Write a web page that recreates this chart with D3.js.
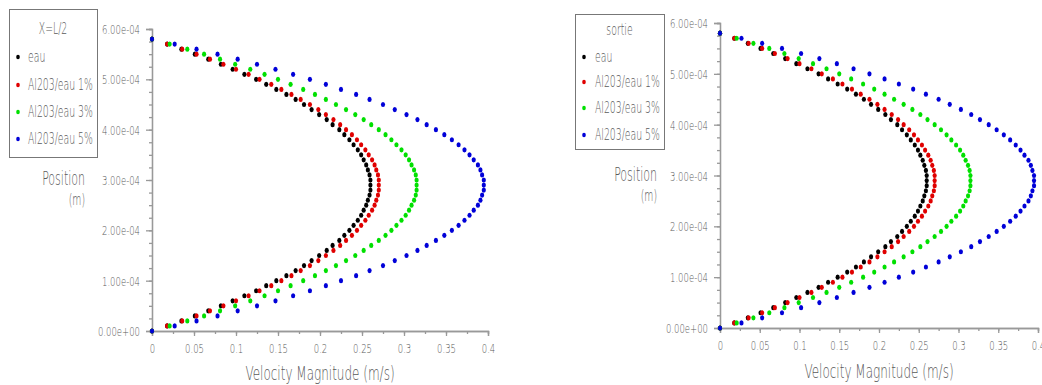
<!DOCTYPE html>
<html>
<head>
<meta charset="utf-8">
<script src="https://cdn.jsdelivr.net/npm/d3@7"></script>
<style>
  body { margin: 0; background: #fff; }
  text { font-family: "DejaVu Sans", sans-serif; font-weight: 200; fill: #5a5a5a; }
</style>
</head>
<body>
<div id="chart"></div>
<script>
// Positions across the channel (m)
var positions = [0, 1e-5, 2e-5, 3e-5, 4e-5, 5e-5, 6e-5, 7e-5, 8e-5, 9e-5,
    10e-5, 11e-5, 12e-5, 13e-5, 14e-5, 15e-5, 16e-5, 17e-5, 18e-5, 19e-5,
    20e-5, 21e-5, 22e-5, 23e-5, 24e-5, 25e-5, 26e-5, 27e-5, 28e-5, 29e-5,
    30e-5, 31e-5, 32e-5, 33e-5, 34e-5, 35e-5, 36e-5, 37e-5, 38e-5, 39e-5,
    40e-5, 41e-5, 42e-5, 43e-5, 44e-5, 45e-5, 46e-5, 47e-5, 48e-5, 49e-5,
    50e-5, 51e-5, 52e-5, 53e-5, 54e-5, 55e-5, 56e-5, 57e-5, 58e-5];

// Velocity magnitude (m/s) for each fluid
var eau = [0, 0.018, 0.035, 0.051, 0.067, 0.082, 0.096, 0.110, 0.124, 0.136,
    0.148, 0.160, 0.171, 0.181, 0.190, 0.199, 0.208, 0.215, 0.223, 0.229,
    0.235, 0.240, 0.245, 0.249, 0.252, 0.255, 0.257, 0.259, 0.260, 0.260,
    0.260, 0.259, 0.257, 0.255, 0.252, 0.249, 0.245, 0.240, 0.235, 0.229,
    0.223, 0.215, 0.208, 0.199, 0.190, 0.181, 0.171, 0.160, 0.148, 0.136,
    0.124, 0.110, 0.096, 0.082, 0.067, 0.051, 0.035, 0.018, 0];
var al1 = [0, 0.018, 0.036, 0.053, 0.069, 0.085, 0.100, 0.115, 0.128, 0.142,
    0.154, 0.166, 0.177, 0.188, 0.198, 0.207, 0.216, 0.224, 0.231, 0.238,
    0.244, 0.249, 0.254, 0.258, 0.262, 0.265, 0.267, 0.269, 0.270, 0.270,
    0.270, 0.269, 0.267, 0.265, 0.262, 0.258, 0.254, 0.249, 0.244, 0.238,
    0.231, 0.224, 0.216, 0.207, 0.198, 0.188, 0.177, 0.166, 0.154, 0.142,
    0.128, 0.115, 0.100, 0.085, 0.069, 0.053, 0.036, 0.018, 0];
var al3 = [0, 0.021, 0.042, 0.062, 0.081, 0.099, 0.117, 0.134, 0.150, 0.165,
    0.180, 0.194, 0.207, 0.219, 0.231, 0.242, 0.252, 0.261, 0.270, 0.278,
    0.285, 0.291, 0.297, 0.302, 0.306, 0.309, 0.312, 0.314, 0.315, 0.315,
    0.315, 0.314, 0.312, 0.309, 0.306, 0.302, 0.297, 0.291, 0.285, 0.278,
    0.270, 0.261, 0.252, 0.242, 0.231, 0.219, 0.207, 0.194, 0.180, 0.165,
    0.150, 0.134, 0.117, 0.099, 0.081, 0.062, 0.042, 0.021, 0];
var al5 = [0, 0.027, 0.053, 0.078, 0.102, 0.125, 0.147, 0.168, 0.188, 0.207,
    0.225, 0.243, 0.259, 0.275, 0.289, 0.303, 0.316, 0.327, 0.338, 0.348,
    0.357, 0.365, 0.372, 0.378, 0.383, 0.388, 0.391, 0.393, 0.395, 0.395,
    0.395, 0.393, 0.391, 0.388, 0.383, 0.378, 0.372, 0.365, 0.357, 0.348,
    0.338, 0.327, 0.316, 0.303, 0.289, 0.275, 0.259, 0.243, 0.225, 0.207,
    0.188, 0.168, 0.147, 0.125, 0.102, 0.078, 0.053, 0.027, 0];

var seriesNames = ["eau", "Al203/eau 1%", "Al203/eau 3%", "Al203/eau 5%"];
var seriesColors = ["#000000", "#e00000", "#00e000", "#0000d8"];
var panelTitles = ["X=L/2", "sortie"];
var xTicks = [0, 0.05, 0.1, 0.15, 0.2, 0.25, 0.3, 0.35, 0.4];
var yTicks = [0, 1e-4, 2e-4, 3e-4, 4e-4, 5e-4, 6e-4];

var w = 1042;
var h = 385;

var svg = d3.select("#chart")
    .append("svg")
    .attr("width", w)
    .attr("height", h);

// Layout of each panel
var panels = [
    { x0: 152, x1: 488, yTop: 29, yBot: 331,
      legend: { x: 9, y: 9, w: 88, h: 148, rows: [57, 85, 112, 139], dotX: 18, textX: 28, titleY: 29 },
      posX: 85, posY: 185, xTitleY: 380 },
    { x0: 720, x1: 1038, yTop: 23, yBot: 328,
      legend: { x: 575, y: 14, w: 89, h: 135, rows: [57, 82, 108, 135], dotX: 584, textX: 595, titleY: 30 },
      posX: 657, posY: 181, xTitleY: 378 }
];

function fmtExp(d) {
    var s = d.toExponential(2);
    var parts = s.split("e");
    var sign = parts[1][0];
    var num = parts[1].slice(1);
    if (num.length < 2) num = "0" + num;
    return parts[0] + "e" + sign + num;
}

var sx = 0.68; // narrow stroke font look

panels.forEach(function(p, pi) {
    var xScale = d3.scaleLinear().domain([0, 0.4]).range([p.x0, p.x1]);
    var yScale = d3.scaleLinear().domain([0, 6e-4]).range([p.yBot, p.yTop]);

    var g = svg.append("g");

    // minor ticks
    var yMinor = d3.axisLeft(yScale)
        .tickValues(d3.range(0, 6.01e-4, 0.25e-4))
        .tickSize(3).tickFormat("");
    g.append("g").attr("transform", "translate(" + p.x0 + ",0)").call(yMinor);

    var xMinor = d3.axisBottom(xScale)
        .tickValues(d3.range(0, 0.401, 0.025))
        .tickSize(3).tickFormat("");
    g.append("g").attr("transform", "translate(0," + p.yBot + ")").call(xMinor);

    // y axis
    var yAxis = d3.axisLeft(yScale).tickValues(yTicks).tickSize(6).tickFormat(fmtExp);
    var ya = g.append("g").attr("transform", "translate(" + p.x0 + ",0)").call(yAxis);
    ya.selectAll("text")
        .attr("x", -12 / sx)
        .attr("dy", "0.36em")
        .attr("transform", "scale(" + sx + ",1)")
        .style("font-size", "12.5px");

    // x axis
    var xAxis = d3.axisBottom(xScale).tickValues(xTicks).tickSize(5)
        .tickFormat(function(d) { return String(+d.toFixed(2)); });
    var xa = g.append("g").attr("transform", "translate(0," + p.yBot + ")").call(xAxis);
    xa.selectAll("text")
        .attr("y", 22)
        .attr("dy", 0)
        .attr("transform", "scale(" + sx + ",1)")
        .attr("x", 0)
        .style("font-size", "12.5px");

    g.selectAll(".domain, .tick line")
        .attr("stroke", "#999")
        .attr("stroke-width", 1.3);

    // points
    var allSeries = [eau, al1, al3, al5];
    allSeries.forEach(function(vals, si) {
        g.append("g").selectAll("ellipse")
            .data(vals)
            .enter()
            .append("ellipse")
            .attr("cx", function(d) { return xScale(d); })
            .attr("cy", function(d, i) { return yScale(positions[i]); })
            .attr("rx", 2.1)
            .attr("ry", 2.6)
            .attr("fill", seriesColors[si]);
    });

    // axis titles
    svg.append("text")
        .attr("transform", "translate(" + ((p.x0 + p.x1) / 2) + "," + p.xTitleY + ") scale(0.6,1)")
        .attr("text-anchor", "middle")
        .style("font-size", "20px")
        .text("Velocity Magnitude (m/s)");

    svg.append("text")
        .attr("transform", "translate(" + p.posX + "," + p.posY + ") scale(0.58,1)")
        .attr("text-anchor", "end")
        .style("font-size", "19px")
        .text("Position");
    svg.append("text")
        .attr("transform", "translate(" + p.posX + "," + (p.posY + 20) + ") scale(0.58,1)")
        .attr("text-anchor", "end")
        .style("font-size", "16px")
        .text("(m)");

    // legend
    var L = p.legend;
    svg.append("rect")
        .attr("x", L.x + 0.5).attr("y", L.y + 0.5)
        .attr("width", L.w).attr("height", L.h)
        .attr("fill", "none")
        .attr("stroke", "#777")
        .attr("stroke-width", 1);
    svg.append("text")
        .attr("transform", "translate(" + (L.x + L.w / 2) + "," + (L.titleY + 5) + ") scale(0.62,1)")
        .attr("text-anchor", "middle")
        .style("font-size", "15px")
        .text(panelTitles[pi]);
    seriesNames.forEach(function(name, si) {
        svg.append("ellipse")
            .attr("cx", L.dotX).attr("cy", L.rows[si])
            .attr("rx", 1.8).attr("ry", 2.3)
            .attr("fill", seriesColors[si]);
        svg.append("text")
            .attr("transform", "translate(" + L.textX + "," + (L.rows[si] + 5) + ") scale(0.62,1)")
            .style("font-size", "15px")
            .text(name);
    });
});
</script>
</body>
</html>
